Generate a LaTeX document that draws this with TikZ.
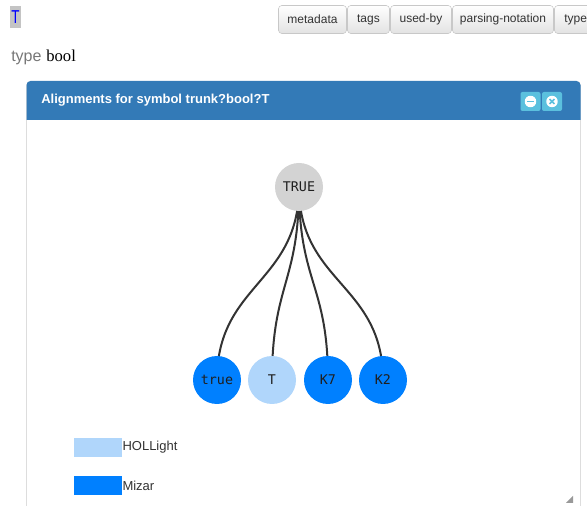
\documentclass[tikz,border=0pt]{standalone}
\usepackage{fontspec}
\setmainfont{Liberation Sans}
\newfontfamily\seriffam{Liberation Serif}
\newfontfamily\monofam{DejaVu Sans Mono}
\usetikzlibrary{calc}

\definecolor{hdrblue}{HTML}{337AB7}
\definecolor{infocyan}{HTML}{5BC0DE}
\definecolor{mizarblue}{HTML}{0080FF}
\definecolor{holblue}{HTML}{B0D6FB}
\definecolor{rootgray}{HTML}{D3D3D3}
\definecolor{linkgray}{HTML}{333333}
\definecolor{btnborder}{HTML}{C8C8C8}
\definecolor{panelborder}{HTML}{DDDDDD}
\definecolor{labelgray}{HTML}{777777}
\definecolor{symbolbg}{HTML}{C4C4C4}

\pgfdeclarelayer{back}
\pgfdeclarelayer{links}
\pgfsetlayers{back,links,main}

\begin{document}
\begin{tikzpicture}[x=0.75pt,y=-0.75pt,
  tab/.style={draw=btnborder, rounded corners=2.5pt, top color=white, bottom color=black!11},
  tablabel/.style={anchor=center, inner sep=0pt, text=black!80, font=\fontsize{9}{10}\selectfont},
  iconbtn/.style={fill=infocyan, minimum width=15pt, minimum height=14.25pt, inner sep=0pt, rounded corners=1.5pt},
  treenode/.style={circle, minimum size=36pt, inner sep=0pt, text=black!88, font=\monofam\fontsize{10}{12}\selectfont},
  link/.style={draw=linkgray, line width=1.5pt},
  legendbox/.style={minimum width=36pt, minimum height=14.25pt, inner sep=0pt},
  legendtext/.style={anchor=west, inner sep=0pt, text=black!80, font=\fontsize{9.75}{11}\selectfont}]
\useasboundingbox (0,0) rectangle (587,506);
\clip (0,0) rectangle (587,506);

% page background and panel with header
\begin{pgfonlayer}{back}
  \fill[white] (0,0) rectangle (587,506);
  \draw[panelborder, fill=white, rounded corners=3pt] (26.5,530) -- (26.5,81.5) -- (580.5,81.5) -- (580.5,530);
  \fill[hdrblue] (26.5,120) [rounded corners=3pt] -- (26.5,81) -- (580.5,81) [sharp corners] -- (580.5,120) -- cycle;
\end{pgfonlayer}

% symbol name, highlighted
\fill[symbolbg] (10,6) rectangle (21,28);
\node[inner sep=0pt, text=blue, xscale=0.72, font=\fontsize{14}{15}\selectfont] (sym) at (15.5,17.5) {T};

% tab buttons
\draw[tab] (278.5,5.5) rectangle (346.5,33.5);
\node[tablabel] (tmeta) at (312.5,19.5) {metadata};
\draw[tab] (347.5,5.5) rectangle (389.5,33.5);
\node[tablabel] (ttags) at (368.5,19.5) {tags};
\draw[tab] (390.5,5.5) rectangle (451.5,33.5);
\node[tablabel] (tused) at (421,19.5) {used-by};
\draw[tab] (452.5,5.5) rectangle (553.5,33.5);
\node[tablabel] (tparse) at (503,19.5) {parsing-notation};
\draw[tab] (554.5,5.5) rectangle (630,33.5);
\node[tablabel, anchor=west] (ttype) at (564,19.5) {type};

% type line
\node[anchor=base west, inner sep=0pt, text=labelgray, font=\fontsize{12}{14}\selectfont] (typ) at (11,62) {type};
\node[anchor=base west, inner sep=0pt, font=\seriffam\fontsize{12.5}{14}\selectfont] (bool) at (46,62) {bool};

% panel title
\node[anchor=west, inner sep=0pt, text=white, font=\bfseries\fontsize{9.75}{11}\selectfont] (title) at (41,100.5) {Alignments for symbol trunk?bool?T};

% collapse and close buttons
\node[iconbtn] (bmin) at (530.5,101.5) {};
\node[iconbtn] (bclose) at (552,101.5) {};
\fill[white] (bmin.center) circle (4.3pt);
\draw[infocyan, line width=1.3pt] ($(bmin.center)+(-3.5,0)$) -- ($(bmin.center)+(3.5,0)$);
\fill[white] (bclose.center) circle (4.3pt);
\draw[infocyan, line width=1.2pt] ($(bclose.center)+(-2.4,-2.4)$) -- ($(bclose.center)+(2.4,2.4)$)
  ($(bclose.center)+(-2.4,2.4)$) -- ($(bclose.center)+(2.4,-2.4)$);

% alignment tree
\node[treenode, fill=rootgray] (root) at (299,187) {TRUE};
\node[treenode, fill=mizarblue] (ntrue) at (217,380) {true};
\node[treenode, fill=holblue] (nT) at (272,380) {T};
\node[treenode, fill=mizarblue] (nK7) at (328,380) {K7};
\node[treenode, fill=mizarblue] (nK2) at (383,380) {K2};
\coordinate (mid) at (299,283.5);

\begin{pgfonlayer}{links}
  \foreach \leaf in {ntrue,nT,nK7,nK2}
    \draw[link] (root.center) .. controls (root |- mid) and (\leaf |- mid) .. (\leaf.center);
\end{pgfonlayer}

% legend
\node[legendbox, fill=holblue] (keyhol) at (98,447.5) {};
\node[legendtext] (lhol) at (keyhol.east) {HOLLight};
\node[legendbox, fill=mizarblue] (keymiz) at (98,485.5) {};
\node[legendtext] (lmiz) at (keymiz.east) {Mizar};

% resize grip
\fill[black!40] (573,496) -- (573,503) -- (566,503) -- cycle;
\end{tikzpicture}
\end{document}
